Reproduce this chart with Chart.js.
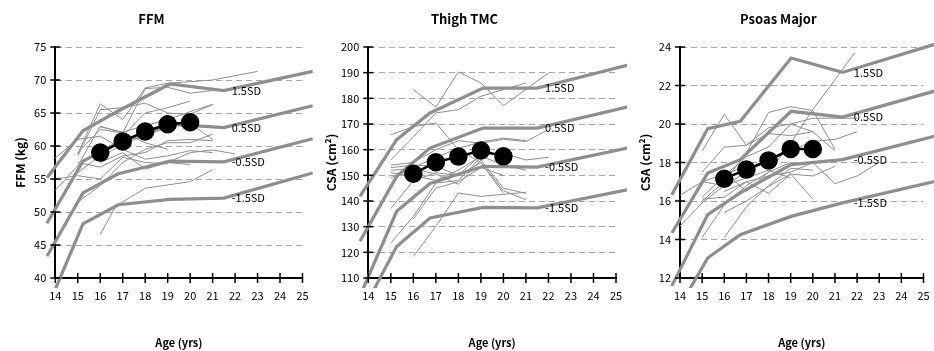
<!DOCTYPE html>
<html>
<head>
<meta charset="utf-8">
<script src="https://cdn.jsdelivr.net/npm/chart.js@4.4.0/dist/chart.umd.min.js"></script>
<style>
  body { margin: 0; background: #fff; width: 934px; height: 351px; position: relative; overflow: hidden; }
  canvas { position: absolute; top: 0; }
</style>
</head>
<body>
<canvas id="ffmChart" width="313" height="351" style="left:0"></canvas>
<canvas id="thighChart" width="314" height="351" style="left:313px"></canvas>
<canvas id="psoasChart" width="307" height="351" style="left:627px"></canvas>
<script>
// x ticks (age, yrs)
const ageTicks = [14, 15, 16, 17, 18, 19, 20, 21, 22, 23, 24, 25];
const meanAges = [16, 17, 18, 19, 20];
const sdLabels = ['1.5SD', '0.5SD', '-0.5SD', '-1.5SD'];

// FFM
const ffmSdAges = [13.63, 15.23, 16.8, 19.1, 21.5, 25.45];
const ffmSdP15 = [55.2, 62.3, 65.3, 69.4, 68.4, 71.3];
const ffmSdP05 = [48.3, 57.7, 60.5, 63.3, 62.8, 66.1];
const ffmSdM05 = [43.3, 52.9, 55.8, 57.7, 57.6, 61.1];
const ffmSdM15 = [35.3, 48.2, 51.1, 51.9, 52.1, 55.9];
const ffmMean = [59.0, 60.7, 62.2, 63.3, 63.6];
const ffmSubjects = [
  [[15, 58.8], [16, 66.4], [17, 64.0], [18, 68.8], [19, 69.5], [21, 70.0], [23, 71.3]],
  [[14, 53.3], [15, 57.0], [16, 63.0], [17, 62.0], [18, 68.7], [19, 68.9], [20, 68.0], [21, 68.4]],
  [[15, 58.5], [16, 65.5], [17, 65.8], [18, 66.5], [19, 65.0], [20, 64.8], [21, 66.3]],
  [[15, 56.0], [16, 58.5], [17, 61.5], [18, 65.0], [19, 65.8], [20, 66.8]],
  [[16, 62.9], [17, 62.1], [18, 63.1], [19, 64.0], [20, 65.2], [21, 66.3]],
  [[14, 58.2], [15, 61.0], [16, 61.5], [17, 59.5], [18, 58.0], [19, 58.5], [20, 59.3], [21, 59.0]],
  [[15, 57.5], [16, 56.8], [17, 58.5], [18, 59.0], [19, 60.8], [20, 61.0], [21, 60.8]],
  [[16, 46.6], [16.7, 50.9], [18, 53.6], [20, 54.6], [21, 56.4]],
  [[14, 55.0], [15, 55.5], [16, 55.0], [17, 58.3], [18, 57.5], [19, 57.3]],
  [[15, 51.5], [16, 54.0], [17, 57.5], [18, 59.5], [19, 60.5], [20, 60.5], [21, 61.8]],
  [[16, 58.3], [17, 60.3], [18, 61.6], [19, 62.8], [20, 63.4], [21, 61.0]],
  [[19, 57.5], [20, 59.0], [21, 59.4], [22, 58.8]],
  [[15, 59.0], [16, 62.5], [17, 62.0], [18, 60.5], [19, 59.5]],
  [[16, 57.5], [17, 59.0], [18, 56.5], [19, 57.5], [20, 57.2]]
];

// Thigh TMC
const thighSdAges = [13.63, 15.26, 16.74, 19.1, 21.5, 25.5];
const thighSdP15 = [141.8, 163.9, 174.3, 184.0, 184.0, 192.9];
const thighSdP05 = [124.3, 149.6, 160.6, 168.4, 168.4, 176.6];
const thighSdM05 = [103.0, 136.0, 146.8, 153.5, 153.2, 160.6];
const thighSdM15 = [95.2, 122.3, 133.4, 137.5, 137.3, 144.4];
const thighMean = [150.6, 155.1, 157.3, 159.7, 157.4];
const thighSubjects = [
  [[16, 183.4], [17, 176.6], [18, 190.3], [19, 186.0], [20, 177.1], [22, 189.9]],
  [[15, 165.8], [16, 169.0], [17, 170.4], [18, 160.0], [19, 155.0], [20, 144.0], [21, 140.5]],
  [[15, 156.0], [16, 165.0], [17, 174.3], [18, 175.6], [19, 180.8], [21, 186.0]],
  [[15, 154.0], [16, 155.0], [17, 160.0], [18, 163.5], [19, 162.5], [20, 164.0], [21, 163.2], [22, 167.8]],
  [[15, 153.0], [16, 154.0], [17, 153.5], [18, 150.0], [19, 158.0], [20, 158.5], [21, 156.0], [22, 157.0]],
  [[15, 152.0], [16, 152.5], [17, 150.5], [18, 146.5], [19, 156.0], [20, 145.0], [21, 143.0]],
  [[15, 151.0], [16, 150.0], [17, 148.0], [18, 152.0], [19, 157.5], [20, 154.0], [21, 152.0]],
  [[15, 137.0], [16, 148.0], [17, 151.0], [18, 150.0], [19, 155.0], [20, 143.0]],
  [[15, 123.6], [16, 134.0], [17, 147.0], [18, 148.0], [19, 157.0]],
  [[16, 118.4], [17, 130.1], [18, 143.1], [19, 141.8], [21, 143.4]],
  [[16, 133.0], [17, 145.0], [18, 147.5], [19, 153.0], [20, 150.0]],
  [[15, 149.0], [16, 153.0], [17, 157.0], [18, 160.5], [19, 163.0], [20, 164.5], [21, 163.5]]
];

// Psoas Major
const psoasSdAges = [13.63, 15.25, 16.72, 19.02, 21.34, 25.5];
const psoasSdP15 = [16.33, 19.76, 20.14, 23.43, 22.68, 24.14];
const psoasSdP05 = [14.34, 17.45, 18.15, 20.66, 20.36, 21.71];
const psoasSdM05 = [11.59, 15.29, 16.42, 17.89, 18.15, 19.36];
const psoasSdM15 = [9.8, 13.04, 14.25, 15.2, 15.9, 17.01];
const psoasMean = [17.16, 17.63, 18.11, 18.70, 18.70];
const psoasSubjects = [
  [[15, 18.6], [16, 20.5], [17, 18.9], [18, 19.8], [19, 20.0], [20, 19.6]],
  [[15, 16.0], [16, 17.0], [17, 18.5], [18, 20.6], [19, 20.9], [20, 20.7], [21, 18.7]],
  [[16, 17.5], [17, 16.5], [18, 17.5], [19, 19.0], [20, 20.75], [21.9, 23.7]],
  [[15, 17.5], [16, 18.8], [17, 18.9], [18, 19.5], [19, 19.4], [20, 19.6], [21, 18.6]],
  [[15, 16.2], [16, 17.3], [17, 18.3], [18, 18.8], [19, 20.0], [20, 20.3], [21, 20.3], [22, 20.3]],
  [[15, 17.0], [16, 16.8], [17, 17.5], [18, 18.1], [19, 18.6], [20, 19.1], [21, 19.2], [22, 19.6]],
  [[16, 16.5], [17, 17.0], [18, 17.3], [19, 17.5], [20, 18.0], [21, 16.9], [22, 17.3], [23, 18.0]],
  [[15, 16.1], [16, 16.2], [17, 17.0], [18, 16.4], [19, 17.4], [20, 17.3], [21, 17.8]],
  [[16, 15.4], [17, 16.0], [18, 16.76], [19, 17.4], [20, 16.1]],
  [[15, 14.1], [16, 15.8], [17, 16.8], [18, 17.5], [19, 18.0]],
  [[16, 14.1], [17, 15.7], [18, 16.8], [19, 17.7], [20, 17.6]],
  [[14, 16.3], [15, 17.0], [16, 17.4], [17, 17.8]],
  [[14, 14.7], [15, 15.9], [16, 16.8], [17, 17.2], [18, 17.6], [19, 17.2]]
];

const FONT = "'Noto Sans CJK JP', 'Liberation Sans', sans-serif";
const GREY = '#8e8e8e';

// ticks that cross the axis lines
const crossTicks = {
  id: 'crossTicks',
  afterDraw(chart) {
    const {ctx, chartArea: a, scales: {x, y}} = chart;
    ctx.save();
    ctx.strokeStyle = '#000';
    ctx.lineWidth = 1.5;
    x.ticks.forEach(t => {
      const px = x.getPixelForValue(t.value);
      ctx.beginPath();
      ctx.moveTo(px, a.bottom - 5);
      ctx.lineTo(px, a.bottom + 5);
      ctx.stroke();
    });
    y.ticks.forEach(t => {
      const py = y.getPixelForValue(t.value);
      ctx.beginPath();
      ctx.moveTo(a.left - 5, py);
      ctx.lineTo(a.left + 5, py);
      ctx.stroke();
    });
    ctx.restore();
  }
};

// "1.5SD" etc. next to the bend of each SD curve
const sdText = {
  id: 'sdText',
  afterDatasetsDraw(chart) {
    const {ctx, scales: {x}} = chart;
    ctx.save();
    ctx.font = '11px ' + FONT;
    ctx.fillStyle = '#000';
    ctx.textAlign = 'left';
    ctx.textBaseline = 'middle';
    chart.data.datasets.forEach((ds, i) => {
      if (!ds.sdName) return;
      const pt = chart.getDatasetMeta(i).data[4];
      ctx.fillText(ds.sdName, x.getPixelForValue(21.85), pt.y);
    });
    ctx.restore();
  }
};

function toPts(ages, vals) {
  return ages.map((a, i) => ({x: a, y: vals[i]}));
}

function makeChart(id, cfg) {
  const datasets = [];
  cfg.subjects.forEach(s => {
    datasets.push({
      data: s.map(([a, v]) => ({x: a, y: v})),
      borderColor: GREY, borderWidth: 1, pointRadius: 0, order: 3,
      clip: {left: false, right: false, top: false, bottom: 10}
    });
  });
  cfg.sd.forEach((vals, i) => {
    datasets.push({
      data: toPts(cfg.sdAges, vals),
      sdName: sdLabels[i],
      borderColor: GREY, borderWidth: 3.2, pointRadius: 0, order: 2,
      clip: {left: false, right: false, top: false, bottom: 10}
    });
  });
  datasets.push({
    data: toPts(meanAges, cfg.mean),
    borderColor: '#000', borderWidth: 2.5,
    pointRadius: 8, pointBackgroundColor: '#000', pointBorderColor: '#000',
    order: 0
  });

  return new Chart(document.getElementById(id), {
    type: 'line',
    data: {datasets},
    options: {
      responsive: false,
      animation: false,
      devicePixelRatio: 1,
      layout: {padding: {left: 0, right: cfg.padRight, top: 0, bottom: 0}},
      plugins: {
        legend: {display: false},
        tooltip: {enabled: false},
        title: {
          display: true, text: cfg.title, color: '#000',
          font: {family: FONT, size: 13, weight: 'bold'},
          padding: {top: 11, bottom: 20.4}
        }
      },
      scales: {
        x: {
          type: 'linear', min: 14, max: 25,
          afterBuildTicks: s => { s.ticks = ageTicks.map(v => ({value: v})); },
          afterFit: s => { s.height = 73; s.paddingLeft = 0; s.paddingRight = 0; },
          grid: {display: false, drawTicks: false},
          border: {display: true, color: '#000', width: 2},
          ticks: {color: '#000', font: {family: FONT, size: 11}, padding: 11, maxRotation: 0},
          title: {
            display: true, text: 'Age (yrs)', color: '#000',
            font: {family: FONT, size: 11, weight: 'bold'},
            padding: {top: 0, bottom: 1.4}
          }
        },
        y: {
          min: cfg.yMin, max: cfg.yMax,
          ticks: {stepSize: cfg.yStep, color: '#000', font: {family: FONT, size: 11}, padding: 9},
          afterFit: s => { s.width = cfg.yWidth; s.paddingTop = 0; s.paddingBottom = 0; },
          grid: {color: '#a6a6a6', lineWidth: 1, drawTicks: false},
          border: {display: true, color: '#000', width: 2, dash: [6, 4]},
          title: {
            display: true, text: cfg.yTitle, color: '#000',
            font: {family: FONT, size: 12, weight: 'bold'},
            padding: {top: cfg.yTitlePad, bottom: 0}
          }
        }
      }
    },
    plugins: [crossTicks, sdText]
  });
}

makeChart('ffmChart', {
  title: 'FFM', yTitle: 'FFM (kg)', yMin: 40, yMax: 75, yStep: 5,
  yWidth: 55.3, yTitlePad: 12.8, padRight: 10,
  sdAges: ffmSdAges, sd: [ffmSdP15, ffmSdP05, ffmSdM05, ffmSdM15],
  mean: ffmMean, subjects: ffmSubjects
});
makeChart('thighChart', {
  title: 'Thigh TMC', yTitle: 'CSA (cm²)', yMin: 110, yMax: 200, yStep: 10,
  yWidth: 55.3, yTitlePad: 11.5, padRight: 11,
  sdAges: thighSdAges, sd: [thighSdP15, thighSdP05, thighSdM05, thighSdM15],
  mean: thighMean, subjects: thighSubjects
});
makeChart('psoasChart', {
  title: 'Psoas Major', yTitle: 'CSA (cm²)', yMin: 12, yMax: 24, yStep: 2,
  yWidth: 53, yTitlePad: 10.8, padRight: 4.3,
  sdAges: psoasSdAges, sd: [psoasSdP15, psoasSdP05, psoasSdM05, psoasSdM15],
  mean: psoasMean, subjects: psoasSubjects
});
</script>
</body>
</html>
